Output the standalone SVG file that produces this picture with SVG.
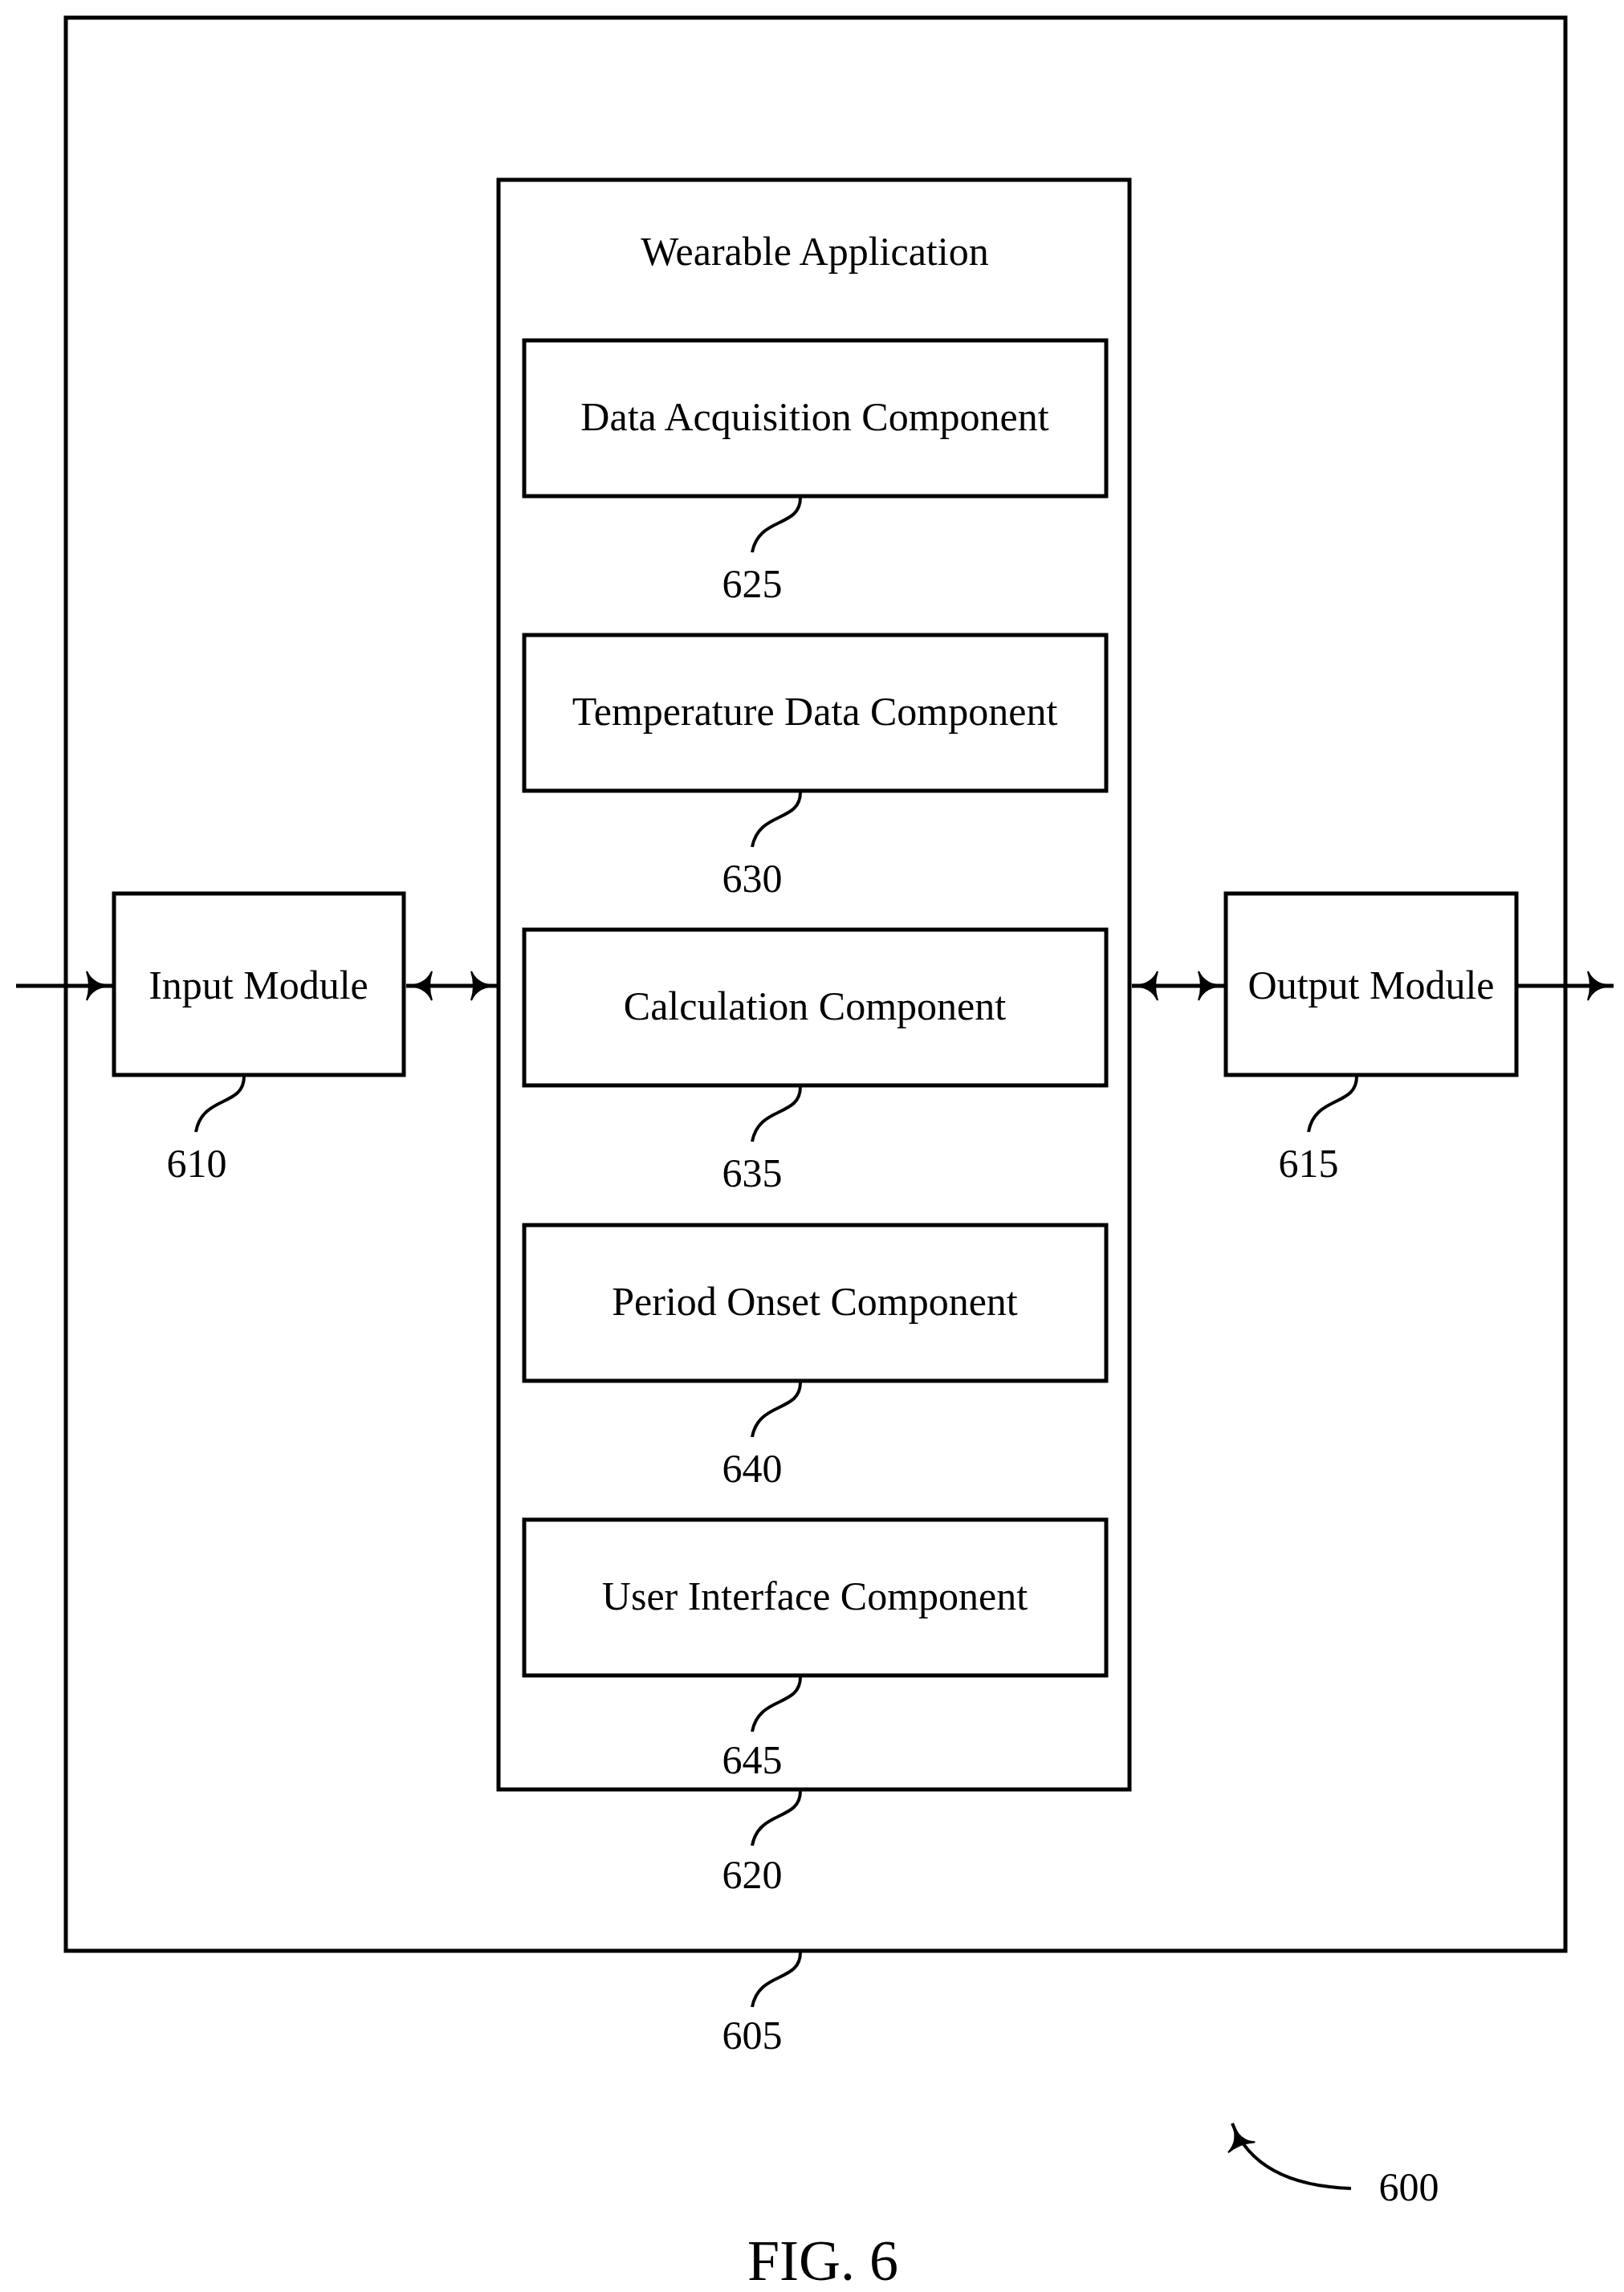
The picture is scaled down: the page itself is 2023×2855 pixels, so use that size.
<svg xmlns="http://www.w3.org/2000/svg" width="2023" height="2855" viewBox="0 0 2023 2855">
<style>
rect{fill:none;stroke:#000;stroke-width:5}
text{font-family:"Liberation Serif",serif;font-size:50px;text-anchor:middle;fill:#000}
.l{fill:none;stroke:#000;stroke-width:4}
.c{fill:none;stroke:#000;stroke-width:5}
</style>
<defs>
<marker id="a" markerUnits="userSpaceOnUse" markerWidth="40" markerHeight="40" refX="34" refY="20" orient="auto-start-reverse">
<path d="M2,2 Q10,20 34,20 Q10,20 2,38 Q8,20 2,2Z" fill="#000" stroke="#000" stroke-width="2"/>
</marker>
</defs>
<g id="n605"><rect x="82" y="22" width="1868" height="2408"/><path class="l" d="M997,2432 C997,2470 945,2455 937,2500"/><text x="937" y="2552">605</text></g>
<g id="n620"><rect x="621" y="224" width="786" height="2005"/><text x="1015" y="330">Wearable Application</text><path class="l" d="M997,2231 C997,2269 945,2254 937,2299"/><text x="937" y="2352">620</text></g>
<g id="n625"><rect x="653" y="424" width="725" height="194"/><text x="1015" y="536">Data Acquisition Component</text><path class="l" d="M997,620 C997,658 945,643 937,688"/><text x="937" y="744">625</text></g>
<g id="n630"><rect x="653" y="791" width="725" height="194"/><text x="1015" y="903">Temperature Data Component</text><path class="l" d="M997,987 C997,1025 945,1010 937,1055"/><text x="937" y="1111">630</text></g>
<g id="n635"><rect x="653" y="1158" width="725" height="194"/><text x="1015" y="1270">Calculation Component</text><path class="l" d="M997,1354 C997,1392 945,1377 937,1422"/><text x="937" y="1478">635</text></g>
<g id="n640"><rect x="653" y="1526" width="725" height="194"/><text x="1015" y="1638">Period Onset Component</text><path class="l" d="M997,1722 C997,1760 945,1745 937,1790"/><text x="937" y="1846">640</text></g>
<g id="n645"><rect x="653" y="1893" width="725" height="194"/><text x="1015" y="2005">User Interface Component</text><path class="l" d="M997,2089 C997,2127 945,2112 937,2157"/><text x="937" y="2209">645</text></g>
<g id="n610"><rect x="142" y="1113" width="361" height="226"/><text x="322" y="1244">Input Module</text><path class="l" d="M304,1341 C304,1379 252,1364 244,1410"/><text x="245" y="1466">610</text></g>
<g id="n615"><rect x="1527" y="1113" width="362" height="226"/><text x="1708" y="1244">Output Module</text><path class="l" d="M1690,1341 C1690,1379 1638,1364 1630,1410"/><text x="1630" y="1466">615</text></g>
<g id="connectors">
<line class="c" x1="20" y1="1228" x2="140" y2="1228" marker-end="url(#a)"/>
<line class="c" x1="506" y1="1228" x2="619" y2="1228" marker-start="url(#a)" marker-end="url(#a)"/>
<line class="c" x1="1410" y1="1228" x2="1525" y2="1228" marker-start="url(#a)" marker-end="url(#a)"/>
<line class="c" x1="1891" y1="1228" x2="2010" y2="1228" marker-end="url(#a)"/>
<path class="l" d="M1683,2726 Q1565,2722 1535,2645" marker-end="url(#a)"/>
</g>
<text x="1755" y="2741">600</text>
<text x="1025" y="2840" style="font-size:72px">FIG. 6</text>
</svg>
